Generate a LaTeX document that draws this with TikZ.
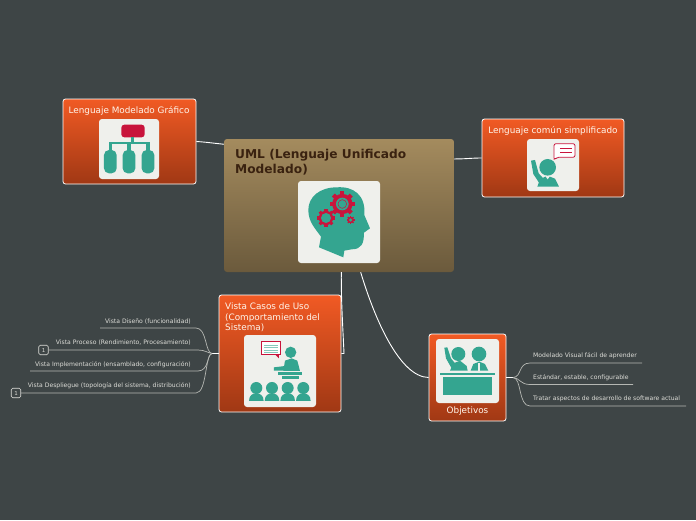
\documentclass[tikz,border=0pt]{standalone}
\usepackage{fontspec}
\setmainfont{DejaVu Sans}
\definecolor{slatebg}{HTML}{3E4546}
\definecolor{teal1}{HTML}{34A590}
\definecolor{crimson1}{HTML}{C8143C}
\definecolor{tile}{HTML}{EFF0EC}
\definecolor{leaftext}{HTML}{DDDDD8}
\newcommand{\gearicon}[4]{%
    \fill[crimson1] (#1,#2) circle[radius=#3*0.8];
    \foreach \a in {0,45,...,315}
        \fill[crimson1,shift={(#1,#2)},rotate=\a] (-#3*0.17,#3*0.7) rectangle (#3*0.17,#3);
    \fill[teal1] (#1,#2) circle[radius=#4];
}
\begin{document}
\begin{tikzpicture}[
        x=1pt, y=-1pt,
        mainbox/.style={draw=none, rounded corners=3pt, top color={rgb,255:red,164;green,139;blue,94}, bottom color={rgb,255:red,107;green,90;blue,60}, inner sep=0pt},
        topicbox/.style={draw=white, line width=.8pt, rounded corners=2.5pt, top color={rgb,255:red,241;green,90;blue,36}, bottom color={rgb,255:red,160;green,56;blue,20}, inner sep=0pt},
        tilebox/.style={fill=tile, rounded corners=3pt, inner sep=0pt},
        topictext/.style={text=white!92!orange, font=\fontsize{8.85}{10.7}\selectfont, inner sep=0pt, align=left},
        leaf/.style={text=leaftext, font=\fontsize{6.1}{7}\selectfont, inner sep=0pt},
        badge/.style={draw=leaftext, rounded corners=1.5pt, line width=.6pt, text=leaftext, minimum size=9.5pt, inner sep=0pt, font=\fontsize{5.5}{6}\selectfont},
        link/.style={draw=white, line width=.9pt},
        branch/.style={draw=leaftext!75!slatebg, line width=.7pt},
        zoomed/.style={x=.3333pt, y=-.3333pt},
    ]
    \useasboundingbox (0,0) rectangle (696,520);
    \fill[slatebg] (0,0) rectangle (696,520);

    \node[mainbox, minimum width=230pt, minimum height=133pt] (main) at (339,205.5) {};
    \node[topicbox, minimum width=133pt, minimum height=85pt] (grafico) at (129.5,141.5) {};
    \node[topicbox, minimum width=142pt, minimum height=78pt] (comun) at (553,158) {};
    \node[topicbox, minimum width=122pt, minimum height=117pt] (casos) at (280,353.5) {};
    \node[topicbox, minimum width=77pt, minimum height=87pt] (objetivos) at (467.5,377.5) {};

    \node[anchor=north west, inner sep=0pt, align=left, text={rgb,255:red,58;green,34;blue,16}, font=\fontsize{12.2}{15}\bfseries\selectfont] (mainTitle) at (235,149.5) {UML (Lenguaje Unificado\\Modelado)};
    \node[topictext, anchor=north] (graficoTitle) at (129,106.5) {Lenguaje Modelado Gráfico};
    \node[topictext, anchor=north] (comunTitle) at (553,126) {Lenguaje común simplificado};
    \node[topictext, anchor=north west] (casosTitle) at (225,302.5) {Vista Casos de Uso\\(Comportamiento del\\Sistema)};
    \node[topictext, anchor=north] (objetivosTitle) at (467.5,407) {Objetivos};

    \node[tilebox, minimum width=82pt, minimum height=82pt] (mainTile) at (339,222) {};
    \node[tilebox, minimum width=60pt, minimum height=60pt] (graficoTile) at (129,149) {};
    \node[tilebox, minimum width=52pt, minimum height=52pt] (comunTile) at (553,165) {};
    \node[tilebox, minimum width=72pt, minimum height=72pt] (casosTile) at (280,371) {};
    \node[tilebox, minimum width=63pt, minimum height=64pt] (objetivosTile) at (467.5,371) {};

    % connectors from the centre
    \draw[link] (main.152) .. controls (212,143) and (205,142) .. (grafico.east);
    \draw[link] (main.22) .. controls (465,159) and (472,158) .. (comun.west);
    \coordinate (casosHook) at (344,353.5);
    \draw[link] (main.-88) .. controls (341,300) and (343,330) .. (casosHook) -- (casos.east);
    \draw[link] (main.-72.5) .. controls (375,320) and (400,377) .. (objetivos.west);

    % left branches
    \coordinate (hubLeft) at (212,353.5);
    \draw[link] (casos.west) -- (hubLeft);
    \node[leaf, anchor=east] (diseno) at (191,322) {Vista Diseño (funcionalidad)};
    \node[leaf, anchor=east] (proceso) at (191,343) {Vista Proceso (Rendimiento, Procesamiento)};
    \node[leaf, anchor=east] (implementacion) at (191,365) {Vista Implementación (ensamblado, configuración)};
    \node[leaf, anchor=east] (despliegue) at (191,386) {Vista Despliegue (topología del sistema, distribución)};
    \node[badge] (badgeProceso) at (43.5,350) {1};
    \node[badge] (badgeDespliegue) at (16,393) {1};
    \coordinate (disenoEnd) at (100,328);
    \coordinate (implementacionEnd) at (30,371);
    \draw[branch] (hubLeft) .. controls (205,353) and (207,328) .. (196,328) -- (disenoEnd);
    \draw[branch] (hubLeft) .. controls (208,353) and (205,350) .. (198,350) -- (badgeProceso.east);
    \draw[branch] (hubLeft) .. controls (207,354) and (209,371) .. (198,371) -- (implementacionEnd);
    \draw[branch] (hubLeft) .. controls (205,354) and (207,393) .. (196,393) -- (badgeDespliegue.east);

    % right branches
    \coordinate (hubRight) at (513,377.5);
    \draw[link] (objetivos.east) -- (hubRight);
    \node[leaf, anchor=west] (modelado) at (533,356) {Modelado Visual fácil de aprender};
    \node[leaf, anchor=west] (estandar) at (533,378) {Estándar, estable, configurable};
    \node[leaf, anchor=west] (tratar) at (533,399) {Tratar aspectos de desarrollo de software actual};
    \coordinate (modeladoEnd) at (642,363);
    \coordinate (estandarEnd) at (633,384.5);
    \coordinate (tratarEnd) at (686,406);
    \draw[branch] (hubRight) .. controls (522,377) and (518,363) .. (530,363) -- (modeladoEnd);
    \draw[branch] (hubRight) .. controls (520,378) and (520,384.5) .. (530,384.5) -- (estandarEnd);
    \draw[branch] (hubRight) .. controls (522,378) and (518,406) .. (530,406) -- (tratarEnd);

    % head
    \begin{scope}[shift={(220,130)}, zoomed]
        \fill[teal1] (265,240) .. controls (265,200) and (300,172) .. (350,172)
            .. controls (400,168) and (438,195) .. (433,255) -- (450,295) -- (432,308)
            .. controls (432,340) and (425,358) .. (395,358) -- (373,362) -- (370,382) -- (297,352) -- (303,320)
            .. controls (285,295) and (265,275) .. (265,240) -- cycle;
        \gearicon{367}{222}{38}{19}
        \gearicon{318}{264}{27}{15}
        \gearicon{392}{270}{12}{5}
        \draw[crimson1, line width=.5pt] (367,222) circle[radius=13];
    \end{scope}

    % chart
    \begin{scope}[shift={(50,90)}, zoomed]
        \fill[crimson1, rounded corners=3pt] (214,104) rectangle (284,142);
        \fill[teal1] (243,142) rectangle (252,157);
        \fill[teal1] (176,155) rectangle (300,163);
        \foreach \px in {181,237,294} {
            \fill[teal1] (\px-5,160) rectangle (\px+5,185);
            \fill[teal1, rounded corners=5pt] (\px-19,180) rectangle (\px+19,250);
        }
    \end{scope}

    % speaker
    \begin{scope}[shift={(470,110)}, zoomed]
        \fill[teal1] (233,172) circle[radius=25];
        \fill[teal1] (202,230) -- (210,208) -- (232,197) -- (255,206) -- (267,230) -- cycle;
        \fill[teal1] (183,152) -- (195,150) -- (206,190) -- (218,203) -- (207,218) -- (190,192) -- cycle;
        \fill[tile] (226,198) -- (240,198) -- (233,208) -- cycle;
        \draw[crimson1, line width=.8pt, fill=white, rounded corners=2pt] (252,150) -- (252,101) -- (315,101) -- (315,142) -- (260,142) -- cycle;
        \draw[crimson1, line width=.8pt] (270,116) -- (305,116) (270,127) -- (305,127);
    \end{scope}

    % classroom
    \begin{scope}[shift={(210,270)}, zoomed]
        \draw[crimson1, line width=.8pt, fill=white] (155,215) rectangle (212,253);
        \fill[crimson1] (195,253) -- (207,265) -- (207,253) -- cycle;
        \foreach \ly in {225,232,240,247}
            \draw[teal1!60!white, line width=.5pt] (163,\ly) -- (205,\ly);
        \fill[teal1] (242,247) circle[radius=17];
        \fill[teal1] (220,303) -- (225,272) -- (245,265) -- (262,272) -- (270,303) -- cycle;
        \fill[teal1] (192,292) -- (225,288) -- (225,302) -- (192,302) -- cycle;
        \fill[teal1] (205,306) rectangle (276,314);
        \fill[teal1] (215,318) rectangle (268,326);
        \foreach \px in {139,186,233,280} {
            \fill[teal1] (\px,354) circle[radius=18];
            \fill[teal1] (\px-22,393) .. controls (\px-22,375) and (\px-10,370) .. (\px,370)
                .. controls (\px+10,370) and (\px+22,375) .. (\px+22,393) -- cycle;
        }
    \end{scope}

    % desk
    \begin{scope}[shift={(350,270)}, zoomed]
        \fill[teal1] (325,252) circle[radius=21];
        \fill[teal1] (300,302) -- (310,280) -- (330,272) -- (350,288) -- (353,302) -- cycle;
        \fill[teal1] (283,233) -- (292,232) -- (303,265) -- (315,280) -- (305,295) -- (288,265) -- cycle;
        \fill[teal1] (387,252) circle[radius=22];
        \fill[teal1] (362,302) -- (370,282) -- (388,275) -- (405,282) -- (415,302) -- cycle;
        \fill[tile] (385,278) rectangle (391,302);
        \fill[teal1] (270,310) rectangle (435,314);
        \fill[teal1] (280,322) rectangle (425,376);
    \end{scope}
\end{tikzpicture}
\end{document}
